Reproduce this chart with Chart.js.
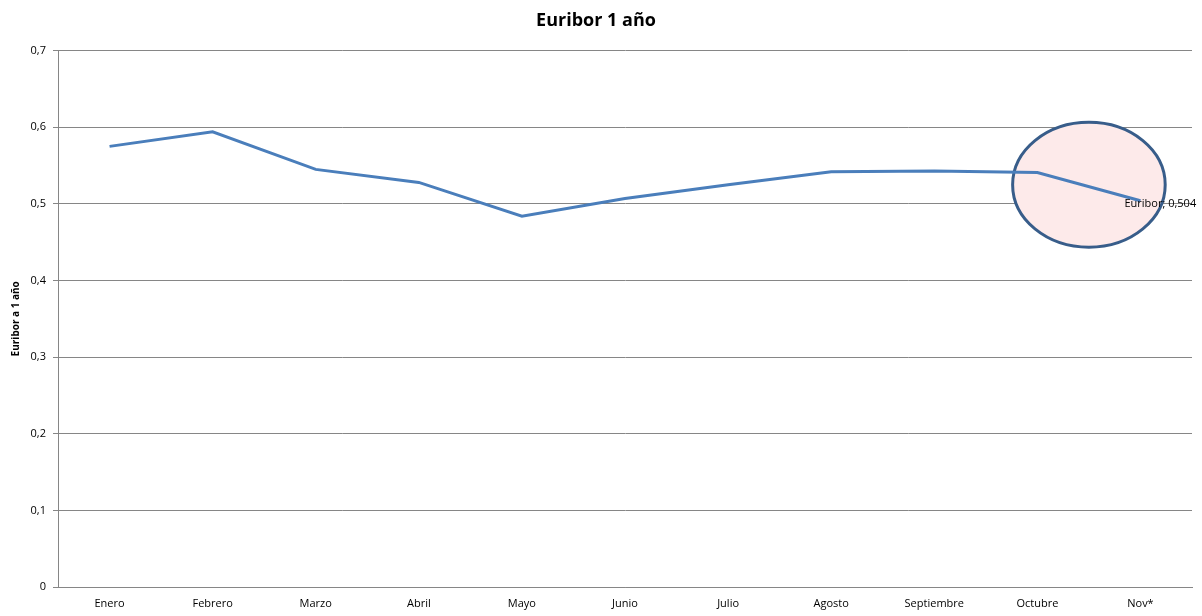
<!DOCTYPE html>
<html>
<head>
<meta charset="utf-8">
<script src="https://cdn.jsdelivr.net/npm/chart.js@4.4.1/dist/chart.umd.min.js"></script>
<style>
  html, body { margin: 0; padding: 0; background: #fff; }
  #wrap { width: 1202px; height: 616px; }
</style>
</head>
<body>
<div id="wrap"><canvas id="euriborChart" width="1202" height="616"></canvas></div>
<script>
// datos Euribor a 1 año (Nov* provisional)
const meses = ["Enero", "Febrero", "Marzo", "Abril", "Mayo", "Junio", "Julio", "Agosto", "Septiembre", "Octubre", "Nov*"];
const euribor = [0.575, 0.594, 0.545, 0.528, 0.484, 0.507, 0.525, 0.542, 0.543, 0.541, 0.504];
const yTicks = [0, 0.1, 0.2, 0.3, 0.4, 0.5, 0.6, 0.7];

const FONT = "'Open Sans', 'DejaVu Sans', sans-serif";

function fmt(v) {
    return String(Math.round(v * 1000) / 1000).replace(".", ",");
}

// elipse que resalta el ultimo tramo + etiqueta del ultimo punto
const highlight = {
    id: "highlight",
    beforeDatasetsDraw(chart) {
        let ctx = chart.ctx;
        let x = chart.scales.x, y = chart.scales.y;
        let cx = x.getPixelForValue(9.5);
        let cy = y.getPixelForValue(0.525);
        let step = x.getPixelForValue(1) - x.getPixelForValue(0);
        let rx = step * 0.74;
        let ry = Math.abs(y.getPixelForValue(0.0815) - y.getPixelForValue(0));
        ctx.save();
        ctx.beginPath();
        ctx.ellipse(cx, cy, rx, ry, 0, 0, Math.PI * 2);
        ctx.fillStyle = "#fdeaea";
        ctx.fill();
        ctx.lineWidth = 3;
        ctx.strokeStyle = "#385d8a";
        ctx.stroke();
        ctx.restore();
    },
    afterDatasetsDraw(chart) {
        let ctx = chart.ctx;
        let last = euribor.length - 1;
        let pt = chart.getDatasetMeta(0).data[last];
        ctx.save();
        ctx.font = "11px " + FONT;
        ctx.fillStyle = "#000";
        ctx.textAlign = "left";
        ctx.textBaseline = "middle";
        ctx.fillText("Euribor; " + fmt(euribor[last]), pt.x - 16, pt.y + 3);
        ctx.restore();
    }
};

let ctx = document.getElementById("euriborChart").getContext("2d");
let chart = new Chart(ctx, {
    type: "line",
    data: {
        labels: meses,
        datasets: [{
            label: "Euribor",
            data: euribor,
            borderColor: "#4a7ebb",
            borderWidth: 3,
            pointRadius: 0,
            tension: 0,
            fill: false
        }]
    },
    options: {
        responsive: false,
        animation: false,
        layout: { padding: { left: 0, right: 10, top: 0, bottom: 0 } },
        plugins: {
            legend: { display: false },
            tooltip: { enabled: false },
            title: {
                display: true,
                text: "Euribor 1 año",
                color: "#000",
                font: { family: FONT, size: 18, weight: "bold" },
                padding: { top: 10, bottom: 19 }
            }
        },
        scales: {
            x: {
                offset: true,
                grid: { display: false, drawTicks: false },
                border: { display: true, color: "#868686", width: 1 },
                ticks: {
                    color: "#000",
                    font: { family: FONT, size: 11 },
                    padding: 10,
                    maxRotation: 0,
                    autoSkip: false
                },
                afterFit(s) { s.height = 29; }
            },
            y: {
                min: 0,
                max: 0.7,
                afterBuildTicks(s) { s.ticks = yTicks.map(v => ({ value: v })); },
                grid: { color: "#868686", lineWidth: 1, tickLength: 5 },
                border: { display: true, color: "#868686", width: 1 },
                ticks: {
                    color: "#000",
                    font: { family: FONT, size: 11 },
                    padding: 7,
                    callback: v => fmt(v)
                },
                title: {
                    display: true,
                    text: "Euribor a 1 año",
                    color: "#000",
                    font: { family: FONT, size: 10, weight: "bold" },
                    padding: { top: 10, bottom: 0 }
                },
                afterFit(s) { s.width = 58; }
            }
        }
    },
    plugins: [highlight]
});
</script>
</body>
</html>
